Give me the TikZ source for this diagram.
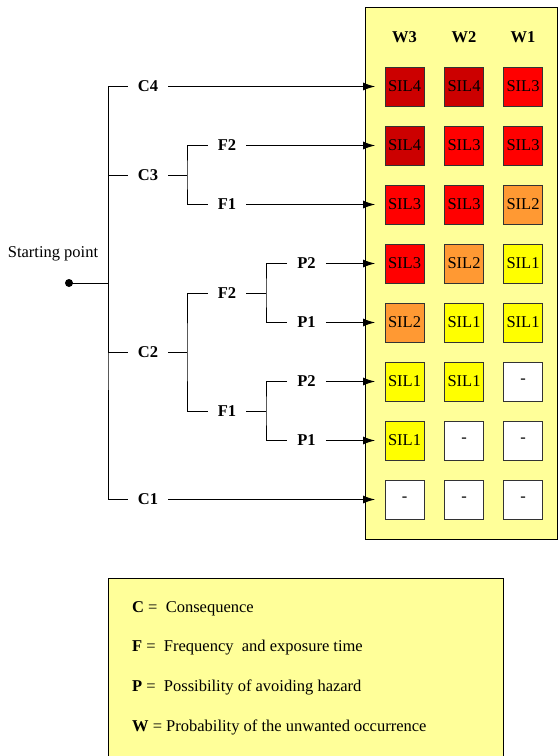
\documentclass[tikz,border=0pt]{standalone}
\usepackage{fontspec}
\setmainfont{Liberation Serif}
\usetikzlibrary{arrows.meta}
\definecolor{silfour}{HTML}{CC0000}
\definecolor{silthree}{HTML}{FF0000}
\definecolor{siltwo}{HTML}{FF9933}
\definecolor{silone}{HTML}{FFFF00}
\definecolor{panelbg}{HTML}{FFFF99}
\definecolor{boxline}{HTML}{333333}
\newcommand\mysize{\fontsize{16.5}{19.8}\selectfont}
\tikzset{
  lbl/.style={font=\mysize\bfseries, inner xsep=10pt, inner ysep=0pt},
  conn/.style={line width=1pt, black},
  arr/.style={conn, -{Latex[length=12pt,width=8pt]}, shorten >=9.5pt},
  silbox/.style={draw=boxline, line width=0.8pt, minimum size=39pt, inner sep=0pt, font=\mysize},
  s4/.style={silbox, fill=silfour},
  s3/.style={silbox, fill=silthree},
  s2/.style={silbox, fill=siltwo},
  s1/.style={silbox, fill=silone},
  s0/.style={silbox, fill=white},
  hdr/.style={font=\mysize\bfseries, inner sep=0pt},
  legtext/.style={anchor=west, inner sep=0pt, font=\mysize}
}
\begin{document}
\begin{tikzpicture}[x=1pt, y=-1pt, font=\mysize]
\useasboundingbox (0,0) rectangle (558,756);
% panel
\draw[fill=panelbg, line width=1pt] (365,7) rectangle (557,539);
% headers
\node[hdr] (h3) at (404.5,37) {W3};
\node[hdr] (h2) at (464,37) {W2};
\node[hdr] (h1) at (523,37) {W1};
% boxes
\foreach \r/\y/\a/\ta/\b/\tb/\c/\tc in {
  1/86.5/s4/SIL4/s4/SIL4/s3/SIL3,
  2/145.5/s4/SIL4/s3/SIL3/s3/SIL3,
  3/204.5/s3/SIL3/s3/SIL3/s2/SIL2,
  4/263.5/s3/SIL3/s2/SIL2/s1/SIL1,
  5/322.5/s2/SIL2/s1/SIL1/s1/SIL1,
  6/381.5/s1/SIL1/s1/SIL1/s0/-,
  7/440.5/s1/SIL1/s0/-/s0/-,
  8/499.5/s0/-/s0/-/s0/-}{
  \node[\a] (r\r c1) at (404.5,\y) {\ta};
  \node[\b] (r\r c2) at (464,\y) {\tb};
  \node[\c] (r\r c3) at (523,\y) {\tc};
}
% tree
\node[inner sep=0pt, font=\mysize] (sp) at (53,254) {Starting point};
\node[circle, fill=black, inner sep=0pt, minimum size=8pt] (start) at (69,283) {};
\coordinate (j1) at (108,283);
\node[lbl] (c4) at (148,86.5) {C4};
\node[lbl] (c3) at (148,175) {C3};
\node[lbl] (c2) at (148,352) {C2};
\node[lbl] (c1) at (148,499.5) {C1};
\coordinate (j3) at (187,175);
\coordinate (j2) at (187,352);
\node[lbl] (f2a) at (227,145.5) {F2};
\node[lbl] (f1a) at (227,204.5) {F1};
\node[lbl] (f2b) at (227,293) {F2};
\node[lbl] (f1b) at (227,411) {F1};
\coordinate (k1) at (266,293);
\coordinate (k2) at (266,411);
\node[lbl] (p2a) at (306.5,263.5) {P2};
\node[lbl] (p1a) at (306.5,322.5) {P1};
\node[lbl] (p2b) at (306.5,381.5) {P2};
\node[lbl] (p1b) at (306.5,440.5) {P1};
\draw[conn] (start.center) -- (j1);
\draw[conn] (c4.west) -| (j1) |- (c1.west);
\draw[conn] (j1) |- (c3.west);
\draw[conn] (j1) |- (c2.west);
\draw[conn] (c3.east) -- (j3);
\draw[conn] (f2a.west) -| (j3) |- (f1a.west);
\draw[conn] (c2.east) -- (j2);
\draw[conn] (f2b.west) -| (j2) |- (f1b.west);
\draw[conn] (f2b.east) -- (k1);
\draw[conn] (p2a.west) -| (k1) |- (p1a.west);
\draw[conn] (f1b.east) -- (k2);
\draw[conn] (p2b.west) -| (k2) |- (p1b.west);
% arrows
\draw[arr] (c4.east) -- (r1c1.west);
\draw[arr] (f2a.east) -- (r2c1.west);
\draw[arr] (f1a.east) -- (r3c1.west);
\draw[arr] (p2a.east) -- (r4c1.west);
\draw[arr] (p1a.east) -- (r5c1.west);
\draw[arr] (p2b.east) -- (r6c1.west);
\draw[arr] (p1b.east) -- (r7c1.west);
\draw[arr] (c1.east) -- (r8c1.west);
% legend
\fill[panelbg] (108,578) rectangle (503,756);
\draw[line width=1pt] (108,756) -- (108,578) -- (503,578) -- (503,756);
\node[legtext] (lc) at (132,609) {\textbf{C} =\ \ Consequence};
\node[legtext] (lf) at (132,648) {\textbf{F} =\ \ Frequency\ \ and exposure time};
\node[legtext] (lp) at (132,687) {\textbf{P} =\ \ Possibility of avoiding hazard};
\node[legtext] (lw) at (132,727) {\textbf{W} = Probability of the unwanted occurrence};
\end{tikzpicture}
\end{document}
